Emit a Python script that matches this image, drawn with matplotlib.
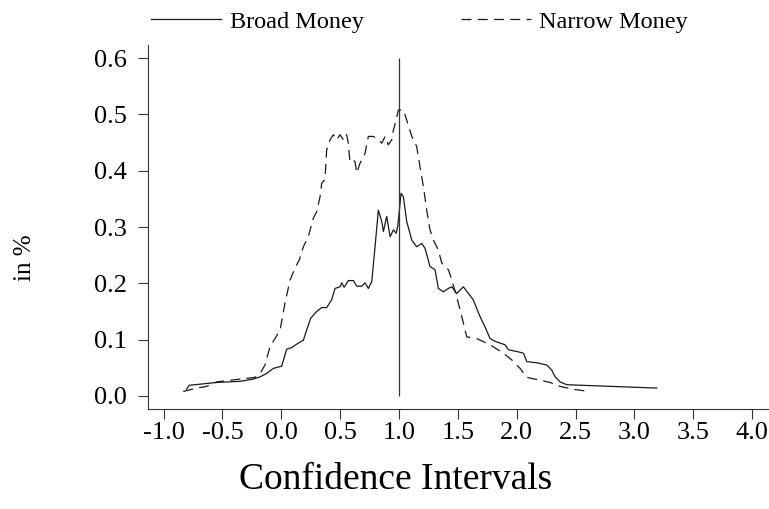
import matplotlib
matplotlib.use('Agg')
import matplotlib.pyplot as plt

plt.rcParams['font.family'] = 'Liberation Serif'
plt.rcParams['axes.unicode_minus'] = False

# Broad Money (solid)
broad_x = [-0.805, -0.782, -0.55, -0.35, -0.238, -0.18, -0.125, -0.068, 0.003, 0.045,
           0.088, 0.13, 0.187, 0.215, 0.249, 0.30, 0.343, 0.385, 0.428, 0.456,
           0.499, 0.513, 0.533, 0.569, 0.612, 0.64, 0.683, 0.711, 0.739, 0.768,
           0.796, 0.824, 0.853, 0.867, 0.895, 0.924, 0.952, 0.975, 0.989, 1.017,
           1.037, 1.065, 1.108, 1.150, 1.193, 1.221, 1.263, 1.306, 1.334, 1.377,
           1.419, 1.448, 1.49, 1.546, 1.589, 1.63, 1.688, 1.73, 1.773, 1.816,
           1.858, 1.90, 1.93, 2.0, 2.057, 2.085, 2.17, 2.255, 2.297, 2.326,
           2.368, 2.425, 3.19]
broad_y = [0.012, 0.019, 0.024, 0.026, 0.030, 0.034, 0.040, 0.049, 0.053, 0.083,
           0.086, 0.092, 0.099, 0.117, 0.138, 0.150, 0.157, 0.157, 0.171, 0.191,
           0.194, 0.201, 0.193, 0.205, 0.205, 0.195, 0.195, 0.201, 0.191, 0.203,
           0.265, 0.330, 0.310, 0.292, 0.319, 0.283, 0.295, 0.289, 0.301, 0.360,
           0.354, 0.310, 0.277, 0.265, 0.271, 0.262, 0.230, 0.224, 0.191, 0.185,
           0.191, 0.194, 0.182, 0.194, 0.182, 0.171, 0.141, 0.123, 0.102, 0.097,
           0.094, 0.091, 0.082, 0.079, 0.076, 0.061, 0.059, 0.055, 0.046, 0.034,
           0.025, 0.020, 0.014]

# Narrow Money (dashed)
narrow_x = [-0.833, -0.72, -0.635, -0.55, -0.35, -0.224, -0.18, -0.139, -0.096, -0.054,
            -0.011, 0.031, 0.074, 0.116, 0.153, 0.187, 0.229, 0.272, 0.30, 0.329,
            0.343, 0.371, 0.385, 0.414, 0.442, 0.470, 0.499, 0.527, 0.541, 0.555,
            0.569, 0.583, 0.612, 0.626, 0.640, 0.668, 0.711, 0.739, 0.782, 0.824,
            0.853, 0.881, 0.909, 0.938, 0.952, 0.975, 0.994, 1.037, 1.065, 1.108,
            1.150, 1.178, 1.207, 1.235, 1.263, 1.292, 1.334, 1.363, 1.391, 1.42,
            1.448, 1.49, 1.533, 1.575, 1.66, 1.773, 1.886, 1.958, 2.028, 2.085,
            2.198, 2.283, 2.368, 2.48, 2.61]
narrow_y = [0.008, 0.014, 0.017, 0.025, 0.030, 0.033, 0.040, 0.055, 0.088, 0.102,
            0.117, 0.165, 0.206, 0.227, 0.242, 0.265, 0.283, 0.316, 0.327, 0.354,
            0.378, 0.384, 0.437, 0.455, 0.464, 0.455, 0.464, 0.455, 0.464, 0.464,
            0.449, 0.416, 0.419, 0.416, 0.396, 0.413, 0.431, 0.461, 0.461, 0.455,
            0.449, 0.461, 0.446, 0.455, 0.472, 0.490, 0.508, 0.508, 0.490, 0.461,
            0.443, 0.407, 0.372, 0.330, 0.295, 0.277, 0.259, 0.236, 0.230, 0.224,
            0.206, 0.176, 0.141, 0.105, 0.102, 0.091, 0.076, 0.064, 0.049, 0.033,
            0.028, 0.024, 0.017, 0.012, 0.008]

x_ticks = [-1.0, -0.5, 0.0, 0.5, 1.0, 1.5, 2.0, 2.5, 3.0, 3.5, 4.0]
y_ticks = [0.0, 0.1, 0.2, 0.3, 0.4, 0.5, 0.6]

fig = plt.figure(figsize=(7.69, 5.09), dpi=100)
ax = fig.add_axes([0.1925, 0.1965, 0.8075, 0.7151])

line_col = '#1a1a1a'
ax.plot(broad_x, broad_y, color=line_col, lw=0.9, label='Broad Money')
ax.plot(narrow_x, narrow_y, color=line_col, lw=0.9, dashes=(8, 5), label='Narrow Money')
ax.vlines(1.0, 0.0, 0.6, color='#333333', lw=0.9)

ax.set_xlim(-1.1326, 4.143)
ax.set_ylim(-0.0231, 0.6234)
ax.set_xticks(x_ticks)
ax.set_yticks(y_ticks)
ax.set_xticklabels(['%.1f' % v for v in x_ticks])
ax.set_yticklabels(['%.1f' % v for v in y_ticks])
ax.tick_params(labelsize=19, length=7.2, width=0.8, color='#333333')
ax.tick_params(axis='x', pad=2)
ax.tick_params(axis='y', pad=8)

for s in ['top', 'right']:
    ax.spines[s].set_visible(False)
for s in ['left', 'bottom']:
    ax.spines[s].set_linewidth(0.8)
    ax.spines[s].set_color('#333333')

fig.legend(loc='center', bbox_to_anchor=(0.5455, 0.957), ncol=2, frameon=False,
           fontsize=17.5, handlelength=2.9, handletextpad=0.34, columnspacing=4.0,
           borderpad=0, borderaxespad=0)

fig.text(0.514, 0.057, 'Confidence Intervals', fontsize=27, ha='center', va='center')
fig.text(0.033, 0.493, 'in %', fontsize=18, rotation=90, ha='center', va='center')

fig.savefig('out.png', dpi=100)
